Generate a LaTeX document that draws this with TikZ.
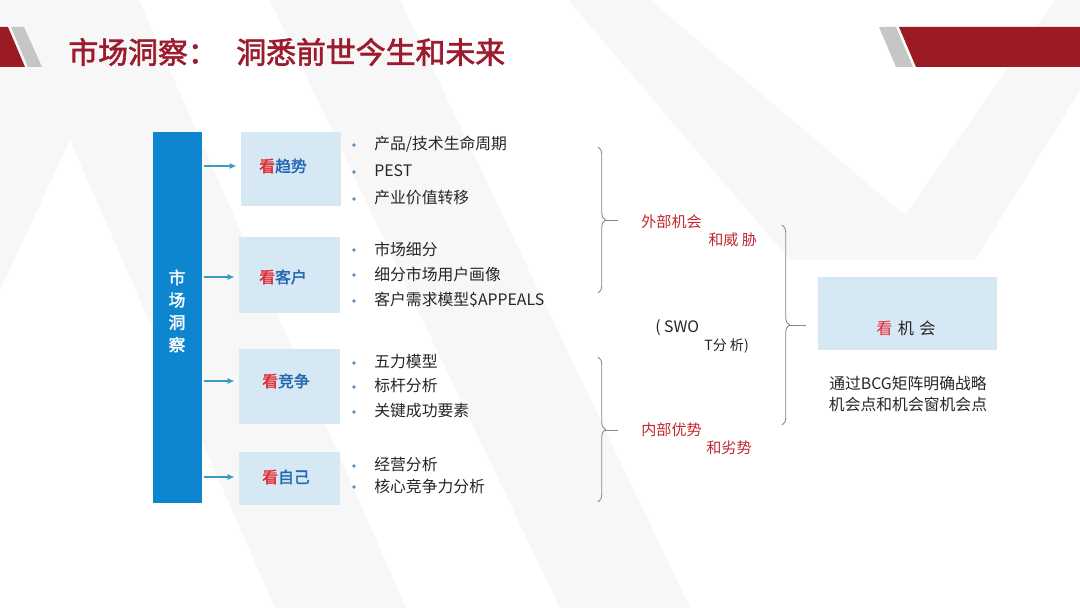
\documentclass[tikz,border=0pt]{standalone}
\usepackage{fontspec}
\setmainfont{Noto Sans CJK SC}[AutoFakeBold=2]
\usetikzlibrary{decorations.pathreplacing,arrows.meta}
\definecolor{hdrred}{HTML}{9A1B23}
\definecolor{titlered}{HTML}{9C1C2E}
\definecolor{hdrgrey}{HTML}{C6C6C6}
\definecolor{barblue}{HTML}{0E86CF}
\definecolor{boxblue}{HTML}{D6E8F4}
\definecolor{arrowblue}{HTML}{3A9BC4}
\definecolor{lblblue}{HTML}{2468B2}
\definecolor{kanred}{HTML}{E3262D}
\definecolor{dotblue}{HTML}{5B8DB8}
\definecolor{txtgrey}{HTML}{262626}
\definecolor{swotred}{HTML}{C0282E}
\definecolor{bracegrey}{HTML}{8A8A8A}
\definecolor{wmgrey}{HTML}{F7F7F7}
\begin{document}
\begin{tikzpicture}[x=0.02cm,y=-0.02cm,
  titletext/.style={anchor=west,inner sep=0,text=titlered,font=\fontsize{17pt}{20pt}\selectfont\bfseries},
  kbox/.style={fill=boxblue,inner sep=0,minimum width=2.02cm},
  klabel/.style={inner sep=0,text=lblblue,font=\fontsize{9pt}{11pt}\selectfont\bfseries},
  itemtext/.style={anchor=west,inner sep=0,text=txtgrey,font=\fontsize{9pt}{11pt}\selectfont},
  dotnode/.style={circle,fill=dotblue,inner sep=0,minimum size=0.075cm},
  arr/.style={draw=arrowblue,line width=0.85pt,-{Latex[length=1.4mm,width=1.2mm]},shorten <=0.04cm,shorten >=0.08cm},
  bracestyle/.style={draw=bracegrey,line width=0.5pt,decorate,decoration={brace,amplitude=0.15cm}},
  tick/.style={draw=bracegrey,line width=0.5pt},
  swotlabel/.style={anchor=west,inner sep=0,text=swotred,font=\fontsize{8.6pt}{10pt}\selectfont},
  swottext/.style={anchor=west,inner sep=0,text=txtgrey},
]
\useasboundingbox (0,0) rectangle (1080,608);
\fill[white] (0,0) rectangle (1080,608);
% faint watermark
\fill[wmgrey] (0,0) -- (139,0) -- (406,608) -- (275,608) -- (70,140) -- (0,290) -- cycle;
\fill[wmgrey] (270,0) -- (400,0) -- (690,608) -- (560,608) -- cycle;
\fill[wmgrey] (568,0) -- (1080,0) -- (1080,90) -- (975,260) -- (790,260) -- cycle;
\fill[white] (650,0) -- (1055,0) -- (905,215) -- cycle;
% header shapes
\fill[hdrred] (0,27) -- (8,27) -- (25,67) -- (0,67) -- cycle;
\fill[hdrgrey] (11,27) -- (24,27) -- (42,67) -- (28,67) -- cycle;
\fill[hdrgrey] (879,27) -- (896,27) -- (913,67) -- (896,67) -- cycle;
\fill[hdrred] (899,27) -- (1080,27) -- (1080,67) -- (916,67) -- cycle;
% title
\node[titletext] (t1) at (68,52) {市场洞察：};
\node[titletext] (t2) at (236,52) {洞悉前世今生和未来};
% blue bar
\node[fill=barblue,inner sep=0,minimum width=0.98cm,minimum height=7.42cm] (bar) at (177.5,317.5) {};
\node[inner sep=0,align=center,text=white,font=\fontsize{9.5pt}{12.75pt}\selectfont\bfseries] (bartxt) at (177,311) {市\\场\\洞\\察};
% boxes
\node[kbox,minimum width=2cm,minimum height=1.48cm] (b1) at (291,169) {};
\node[kbox,minimum height=1.52cm] (b2) at (289.5,275) {};
\node[kbox,minimum height=1.5cm] (b3) at (289.5,386.5) {};
\node[kbox,minimum height=1.06cm] (b4) at (289.5,478.5) {};
\node[klabel] (l1) at (283,166) {\textcolor{kanred}{看}趋势};
\node[klabel] (l2) at (283,277) {\textcolor{kanred}{看}客户};
\node[klabel] (l3) at (286,381) {\textcolor{kanred}{看}竞争};
\node[klabel] (l4) at (286,477) {\textcolor{kanred}{看}自己};
\draw[arr] (bar.east |- l1) -- (b1.west |- l1);
\draw[arr] (bar.east |- l2) -- (b2.west |- l2);
\draw[arr] (bar.east |- l3) -- (b3.west |- l3);
\draw[arr] (bar.east |- l4) -- (b4.west |- l4);
% bullet items
\node[dotnode] (d1) at (354,145) {};  \node[itemtext] (i1) at (374,144) {产品/技术生命周期};
\node[dotnode] (d2) at (354,172) {};  \node[itemtext] (i2) at (374,171) {PEST};
\node[dotnode] (d3) at (354,199) {};  \node[itemtext] (i3) at (374,198) {产业价值转移};
\node[dotnode] (d4) at (354,250) {};  \node[itemtext] (i4) at (374,249) {市场细分};
\node[dotnode] (d5) at (354,275) {};  \node[itemtext] (i5) at (374,274) {细分市场用户画像};
\node[dotnode] (d6) at (354,301) {};  \node[itemtext] (i6) at (374,300) {客户需求模型\$APPEALS};
\node[dotnode] (d7) at (354,363) {};  \node[itemtext] (i7) at (374,362) {五力模型};
\node[dotnode] (d8) at (354,387) {};  \node[itemtext] (i8) at (374,386) {标杆分析};
\node[dotnode] (d9) at (354,412) {};  \node[itemtext] (i9) at (374,411) {关键成功要素};
\node[dotnode] (d10) at (354,466) {}; \node[itemtext] (i10) at (374,465) {经营分析};
\node[dotnode] (d11) at (354,487) {}; \node[itemtext] (i11) at (374,486) {核心竞争力分析};
% braces
\coordinate (br1t) at (598,147); \coordinate (br1b) at (598,293);
\coordinate (br2t) at (598,357); \coordinate (br2b) at (598,502);
\coordinate (br3t) at (782,225); \coordinate (br3b) at (782,425);
\draw[bracestyle] (br1t) -- (br1b);
\draw[bracestyle] (br2t) -- (br2b);
\draw[bracestyle] (br3t) -- (br3b);
\coordinate (br1m) at (605,220); \coordinate (br1e) at (618,220);
\coordinate (br2m) at (605,430); \coordinate (br2e) at (618,430);
\coordinate (br3m) at (789,325); \coordinate (br3e) at (806,325);
\draw[tick] (br1m) -- (br1e);
\draw[tick] (br2m) -- (br2e);
\draw[tick] (br3m) -- (br3e);
% SWOT labels
\node[swotlabel] (s1) at (641,222) {外部机会};
\node[swotlabel] (s2) at (708,240) {和威 胁};
\node[swotlabel] (s3) at (641,430) {内部优势};
\node[swotlabel] (s4) at (706,448) {和劣势};
\node[swottext,font=\fontsize{9pt}{10pt}\selectfont] (sw1) at (655,328) {( SWO};
\node[swottext,font=\fontsize{8pt}{9pt}\selectfont] (sw2) at (704,346) {T分 析)};
% right box
\node[fill=boxblue,inner sep=0,minimum width=3.58cm,minimum height=1.46cm] (b5) at (907.5,313.5) {};
\node[inner sep=0,text=txtgrey,font=\fontsize{9.2pt}{11pt}\selectfont] (l5) at (906,328) {\textcolor{kanred}{看}\hspace{3pt}机\hspace{3pt}会};
\node[inner sep=0,align=center,text=txtgrey,font=\fontsize{9pt}{11.9pt}\selectfont] (n5) at (908,394) {通过BCG矩阵明确战略\\机会点和机会窗机会点};
\end{tikzpicture}
\end{document}
